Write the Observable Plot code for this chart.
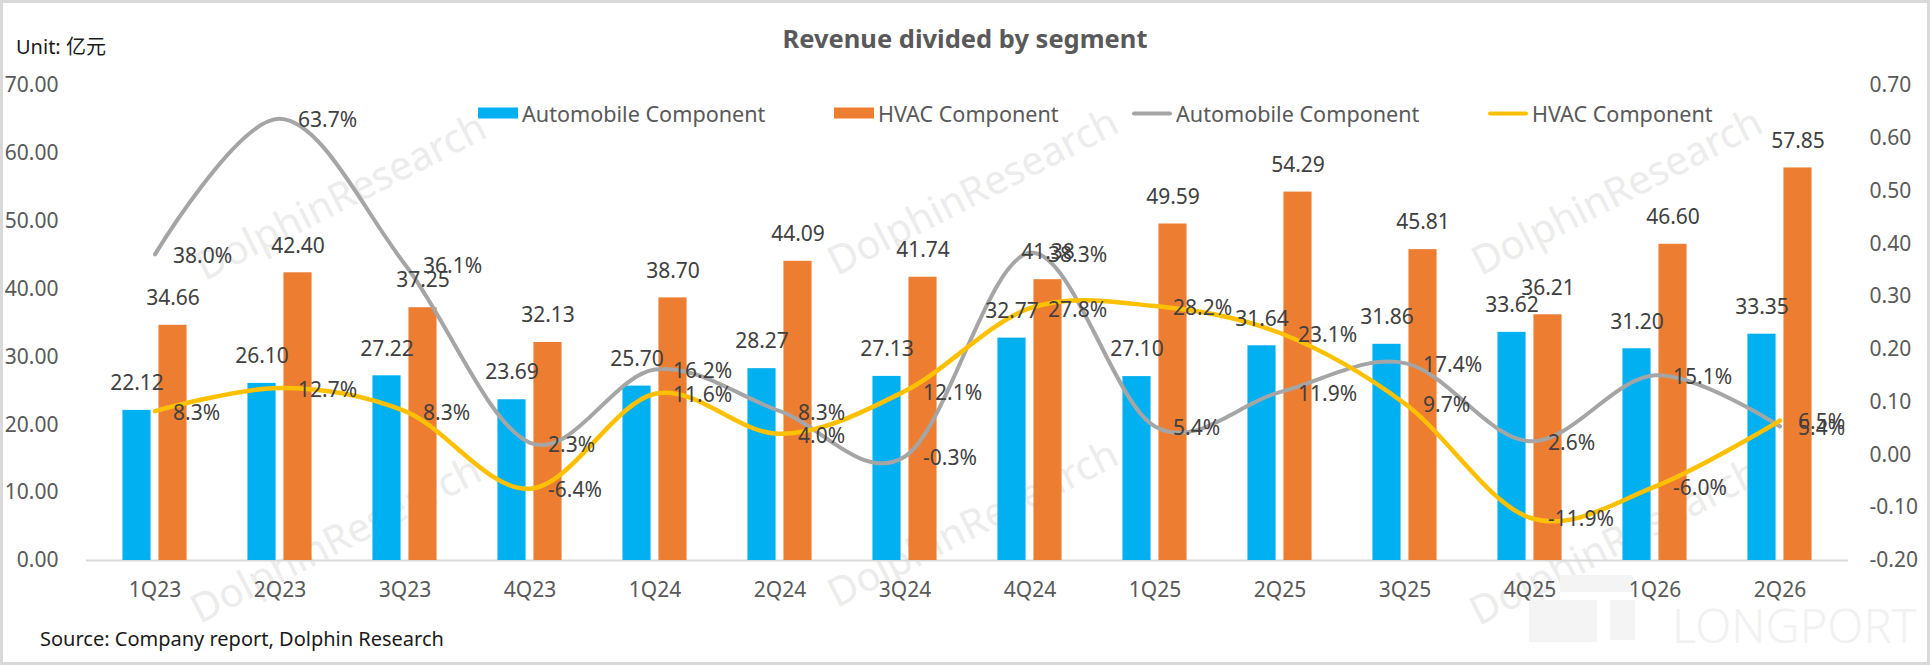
<!DOCTYPE html>
<html>
<head>
<meta charset="utf-8">
<script src="https://cdn.jsdelivr.net/npm/d3@7"></script>
<script src="https://cdn.jsdelivr.net/npm/@observablehq/plot@0.6"></script>
<style>
  body { margin: 0; background: #fff; font-family: "Noto Sans", "Noto Sans CJK SC", sans-serif; }
  #wrap { position: relative; width: 1930px; height: 665px; overflow: hidden; background: #fff; }
  #wrap > div, #wrap > span { position: absolute; }
  #chart { left: 0; top: 0; }
  .wm { color: #ececec; font-size: 40px; white-space: nowrap; transform: translate(-50%, -50%) rotate(-27deg); }
  .lp { background: #f4f4f4; }
  .longport { color: #f1f1f1; font-size: 47px; font-weight: 300; left: 1672px; top: 625px; transform: translateY(-50%); line-height: 1; white-space: nowrap; }
  .title { left: 965px; top: 38px; transform: translate(-50%, -50%); font-size: 25.5px; font-weight: bold; color: #595959; white-space: nowrap; }
  .unit { left: 16px; top: 45px; transform: translateY(-50%); font-size: 20px; color: #1a1a1a; }
  .source { left: 40px; top: 638px; transform: translateY(-50%); font-size: 20px; color: #1a1a1a; white-space: nowrap; }
  .leg { top: 113px; transform: translateY(-50%); display: flex; align-items: center; font-size: 21.6px; color: #595959; white-space: nowrap; }
  .sw { display: inline-block; width: 40px; margin-right: 4px; }
  .frame { left: 0; top: 0; width: 1930px; height: 665px; box-sizing: border-box; border: 3px solid #d9d9d9; pointer-events: none; }
</style>
</head>
<body>
<div id="wrap">
  <div class="wm" style="left:340px;top:195px">DolphinResearch</div>
  <div class="wm" style="left:972px;top:190px">DolphinResearch</div>
  <div class="wm" style="left:1616px;top:190px">DolphinResearch</div>
  <div class="wm" style="left:335px;top:538px">DolphinResearch</div>
  <div class="wm" style="left:972px;top:522px">DolphinResearch</div>
  <div class="wm" style="left:1614px;top:540px">DolphinResearch</div>
  <div class="lp" style="left:1560px;top:575px;width:73px;height:17px"></div>
  <div class="lp" style="left:1529px;top:600px;width:68px;height:42px"></div>
  <div class="lp" style="left:1610px;top:600px;width:25px;height:40px"></div>
  <div class="longport">LONGPORT</div>
  <div id="chart"></div>
  <div class="title">Revenue divided by segment</div>
  <div class="unit">Unit: 亿元</div>
  <div class="leg" style="left:478px"><span class="sw" style="height:11px;background:#00B0F0"></span>Automobile Component</div>
  <div class="leg" style="left:834px"><span class="sw" style="height:11px;background:#ED7D31"></span>HVAC Component</div>
  <div class="leg" style="left:1132px"><span class="sw" style="height:4px;border-radius:2px;background:#A5A5A5"></span>Automobile Component</div>
  <div class="leg" style="left:1488px"><span class="sw" style="height:4px;border-radius:2px;background:#FFC000"></span>HVAC Component</div>
  <div class="source">Source: Company report, Dolphin Research</div>
  <div class="frame"></div>
</div>
<script>
const quarters = ["1Q23", "2Q23", "3Q23", "4Q23", "1Q24", "2Q24", "3Q24", "4Q24", "1Q25", "2Q25", "3Q25", "4Q25", "1Q26", "2Q26"]
const autoRevenue = [22.12, 26.10, 27.22, 23.69, 25.70, 28.27, 27.13, 32.77, 27.10, 31.64, 31.86, 33.62, 31.20, 33.35]
const hvacRevenue = [34.66, 42.40, 37.25, 32.13, 38.70, 44.09, 41.74, 41.38, 49.59, 54.29, 45.81, 36.21, 46.60, 57.85]
const autoGrowth = [0.380, 0.637, 0.361, 0.023, 0.162, 0.083, -0.003, 0.383, 0.054, 0.119, 0.174, 0.026, 0.151, 0.054]
const hvacGrowth = [0.083, 0.127, 0.083, -0.064, 0.116, 0.040, 0.121, 0.278, 0.282, 0.231, 0.097, -0.119, -0.060, 0.065]
const leftTicks = [0, 10, 20, 30, 40, 50, 60, 70]
const rightTicks = [-0.2, -0.1, 0, 0.1, 0.2, 0.3, 0.4, 0.5, 0.6, 0.7]

// right axis (growth) is drawn on the left scale: -0.2..0.7 -> 0..70
const toLeft = v => (v + 0.2) * 70 / 0.9
const fromLeft = v => v * 0.9 / 70 - 0.2

const rows = quarters.map((q, i) => ({
  q, auto: autoRevenue[i], hvac: hvacRevenue[i], autoG: autoGrowth[i], hvacG: hvacGrowth[i]
}))

const W = 1930, mL = 86, mR = 82
const band = (W - mL - mR) / quarters.length
const half = band / 2
const barW = 29, gap = 3.5
const pct = v => (v * 100).toFixed(1) + "%"
const font = 21

let chart = Plot.plot({
  width: W,
  height: 665,
  marginLeft: mL,
  marginRight: mR,
  marginTop: 85,
  marginBottom: 105,
  x: {domain: quarters, padding: 0, label: null},
  y: {domain: [0, 70], label: null},
  style: {
    background: "transparent",
    fontFamily: '"Noto Sans", "Noto Sans CJK SC", sans-serif',
    fontSize: font + "px",
    color: "#595959"
  },
  marks: [
    Plot.ruleY([0], {stroke: "#d9d9d9", strokeWidth: 2}),
    Plot.axisX({tickSize: 0, tickPadding: 22, fontSize: font, fill: "#595959", label: null}),
    Plot.axisY({anchor: "left", ticks: leftTicks, tickSize: 0, tickPadding: 28, fontSize: font, fill: "#595959",
      tickFormat: d => d.toFixed(2), label: null}),
    Plot.axisY({anchor: "right", ticks: rightTicks.map(toLeft), tickSize: 0, tickPadding: 21, fontSize: font, fill: "#595959",
      tickFormat: d => { const v = Math.round(fromLeft(d) * 10) / 10; return (v === 0 ? 0 : v).toFixed(2) }, label: null}),
    Plot.barY(rows, {x: "q", y: "auto", fill: "#00B0F0",
      insetLeft: half - gap - barW, insetRight: half + gap}),
    Plot.barY(rows, {x: "q", y: "hvac", fill: "#ED7D31",
      insetLeft: half + gap, insetRight: half - gap - barW}),
    Plot.line(rows, {x: "q", y: d => toLeft(d.autoG), stroke: "#A5A5A5", strokeWidth: 4, curve: "cardinal"}),
    Plot.line(rows, {x: "q", y: d => toLeft(d.hvacG), stroke: "#FFC000", strokeWidth: 4.5, curve: "cardinal"}),
    Plot.text(rows, {x: "q", y: "auto", text: d => d.auto.toFixed(2), dx: -(gap + barW / 2), dy: -27,
      fill: "#404040", fontSize: font}),
    Plot.text(rows, {x: "q", y: "hvac", text: d => d.hvac.toFixed(2), dx: gap + barW / 2, dy: -27,
      fill: "#404040", fontSize: font}),
    Plot.text(rows, {x: "q", y: d => toLeft(d.autoG), text: d => pct(d.autoG), textAnchor: "start", dx: 18, dy: 2,
      fill: "#404040", fontSize: font}),
    Plot.text(rows, {x: "q", y: d => toLeft(d.hvacG), text: d => pct(d.hvacG), textAnchor: "start", dx: 18, dy: 2,
      fill: "#404040", fontSize: font}),
  ]
})

d3.select('#chart').append(() => chart)
</script>
</body>
</html>
